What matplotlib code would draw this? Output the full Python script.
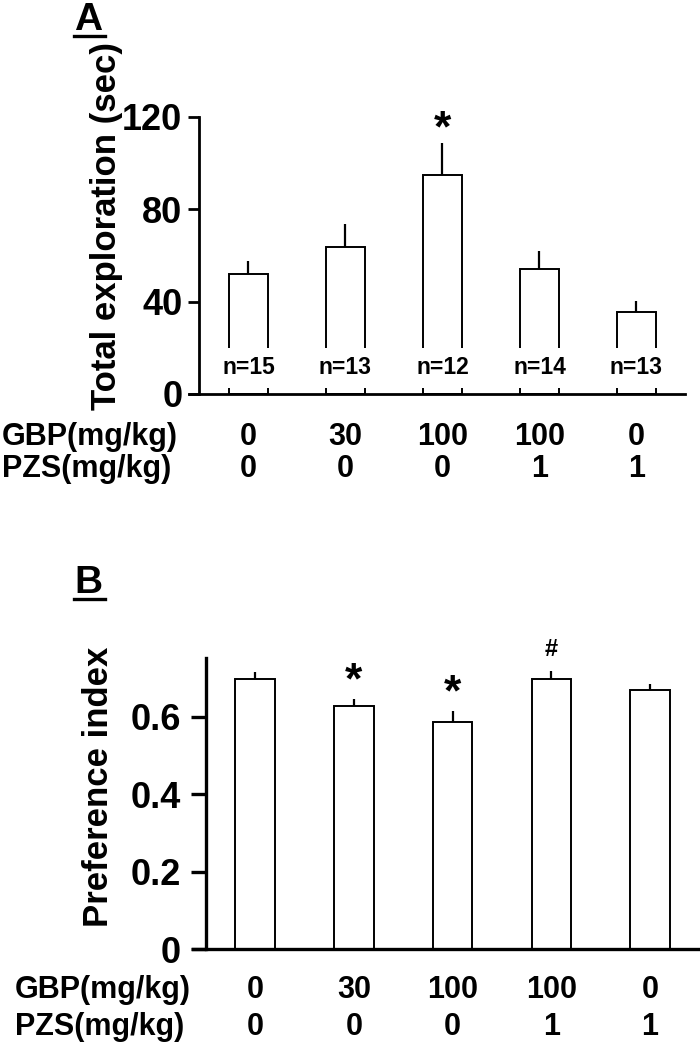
import numpy as np
import matplotlib
matplotlib.use("Agg")
import matplotlib.pyplot as plt
from matplotlib.transforms import blended_transform_factory
from matplotlib.lines import Line2D

plt.rcParams['font.family'] = ['Liberation Sans', 'DejaVu Sans']
plt.rcParams['font.weight'] = 'bold'

# data
gbp = ["0", "30", "100", "100", "0"]
pzs = ["0", "0", "0", "1", "1"]

explo_mean = [52.1, 63.7, 95.0, 54.0, 35.5]
explo_err = [5.5, 9.8, 13.6, 8.1, 4.7]
explo_n = ["n=15", "n=13", "n=12", "n=14", "n=13"]
explo_sig = ["", "", "*", "", ""]

pref_mean = [0.697, 0.627, 0.587, 0.697, 0.670]
pref_err = [0.018, 0.018, 0.027, 0.022, 0.016]
pref_sig = ["", "*", "*", "#", ""]

W, H = 700, 1048
fig = plt.figure(figsize=(7, 10.48), dpi=100)


def fx(px):
    return px / W


def fy(py):
    return 1 - py / H


def panel(ax, means, errs, ylim, yticks, ylabels, spine_x, lw_axis):
    x = np.arange(len(means))
    ax.bar(x, means, width=0.40, color='white', edgecolor='black', linewidth=1.4, zorder=2)
    ax.errorbar(x, means, yerr=[np.zeros(len(errs)), errs], fmt='none',
                ecolor='black', elinewidth=1.6, capsize=0, zorder=1)
    ax.set_ylim(*ylim)
    ax.set_yticks(yticks)
    ax.set_yticklabels(ylabels)
    ax.spines['top'].set_visible(False)
    ax.spines['right'].set_visible(False)
    ax.spines['left'].set_position(('data', spine_x))
    ax.spines['left'].set_linewidth(lw_axis)
    ax.spines['bottom'].set_linewidth(lw_axis)
    ax.set_xticks([])
    ax.tick_params(axis='y', length=8, width=lw_axis, labelsize=26, pad=4)
    for lab in ax.get_yticklabels():
        lab.set_fontweight('bold')


# ---- panel A ----
axA = fig.add_axes([fx(189.3), fy(394), fx(685 - 189.3), 277 / H])
axA.set_xlim(-0.61, 4.5)
panel(axA, explo_mean, explo_err, (0, 120), [0, 40, 80, 120],
      ["0", "40", "80", "120"], -0.51, 2.0)
for i, t in enumerate(explo_n):
    axA.text(i, 11.3, t, ha='center', va='center', fontsize=16.5, fontweight='bold',
             zorder=5, bbox=dict(facecolor='white', edgecolor='none', pad=6))
for i, s in enumerate(explo_sig):
    if s:
        axA.text(i, explo_mean[i] + explo_err[i] + 6, s, ha='center', va='center',
                 fontsize=32, fontweight='bold', clip_on=False)

# ---- panel B ----
axB = fig.add_axes([fx(193.3), fy(949.3), fx(700 - 193.3), (949.3 - 658) / H])
axB.set_xlim(-0.625, 4.506)
panel(axB, pref_mean, pref_err, (0, 0.752), [0, 0.2, 0.4, 0.6],
      ["0", "0.2", "0.4", "0.6"], -0.496, 2.4)
axB.tick_params(axis='y', length=11, pad=7)
sig_y = {"*": 0.045, "#": 0.055}
for i, s in enumerate(pref_sig):
    if s:
        fs = 32 if s == "*" else 17
        axB.text(i, pref_mean[i] + pref_err[i] + sig_y[s], s, ha='center', va='center',
                 fontsize=fs, fontweight='bold', clip_on=False)

# ---- dose rows ----
for ax, y1, y2, xl in [(axA, 445, 477, 2), (axB, 998, 1035, 15)]:
    tr = blended_transform_factory(ax.transData, fig.transFigure)
    fig.text(fx(xl), fy(y1), "GBP(mg/kg)", ha='left', va='baseline', fontsize=22, fontweight='bold')
    fig.text(fx(xl), fy(y2), "PZS(mg/kg)", ha='left', va='baseline', fontsize=22, fontweight='bold')
    for i in range(len(gbp)):
        ax.text(i, fy(y1), gbp[i], transform=tr, ha='center', va='baseline',
                fontsize=22, fontweight='bold')
        ax.text(i, fy(y2), pzs[i], transform=tr, ha='center', va='baseline',
                fontsize=22, fontweight='bold')

# ---- y labels ----
fig.text(fx(107), fy(225.5), "Total exploration (sec)", rotation=90, ha='center', va='center',
         fontsize=25, fontweight='bold')
fig.text(fx(99), fy(786.5), "Preference index", rotation=90, ha='center', va='center',
         fontsize=25, fontweight='bold')

# ---- panel letters ----
for letter, ycap in [("A", 30), ("B", 593)]:
    fig.text(fx(74), fy(ycap), letter, ha='left', va='baseline', fontsize=28, fontweight='bold')
    fig.add_artist(Line2D([fx(74), fx(105)], [fy(ycap + 6), fy(ycap + 6)],
                          color='black', linewidth=2.4, transform=fig.transFigure))

fig.savefig("out.png", dpi=100)
